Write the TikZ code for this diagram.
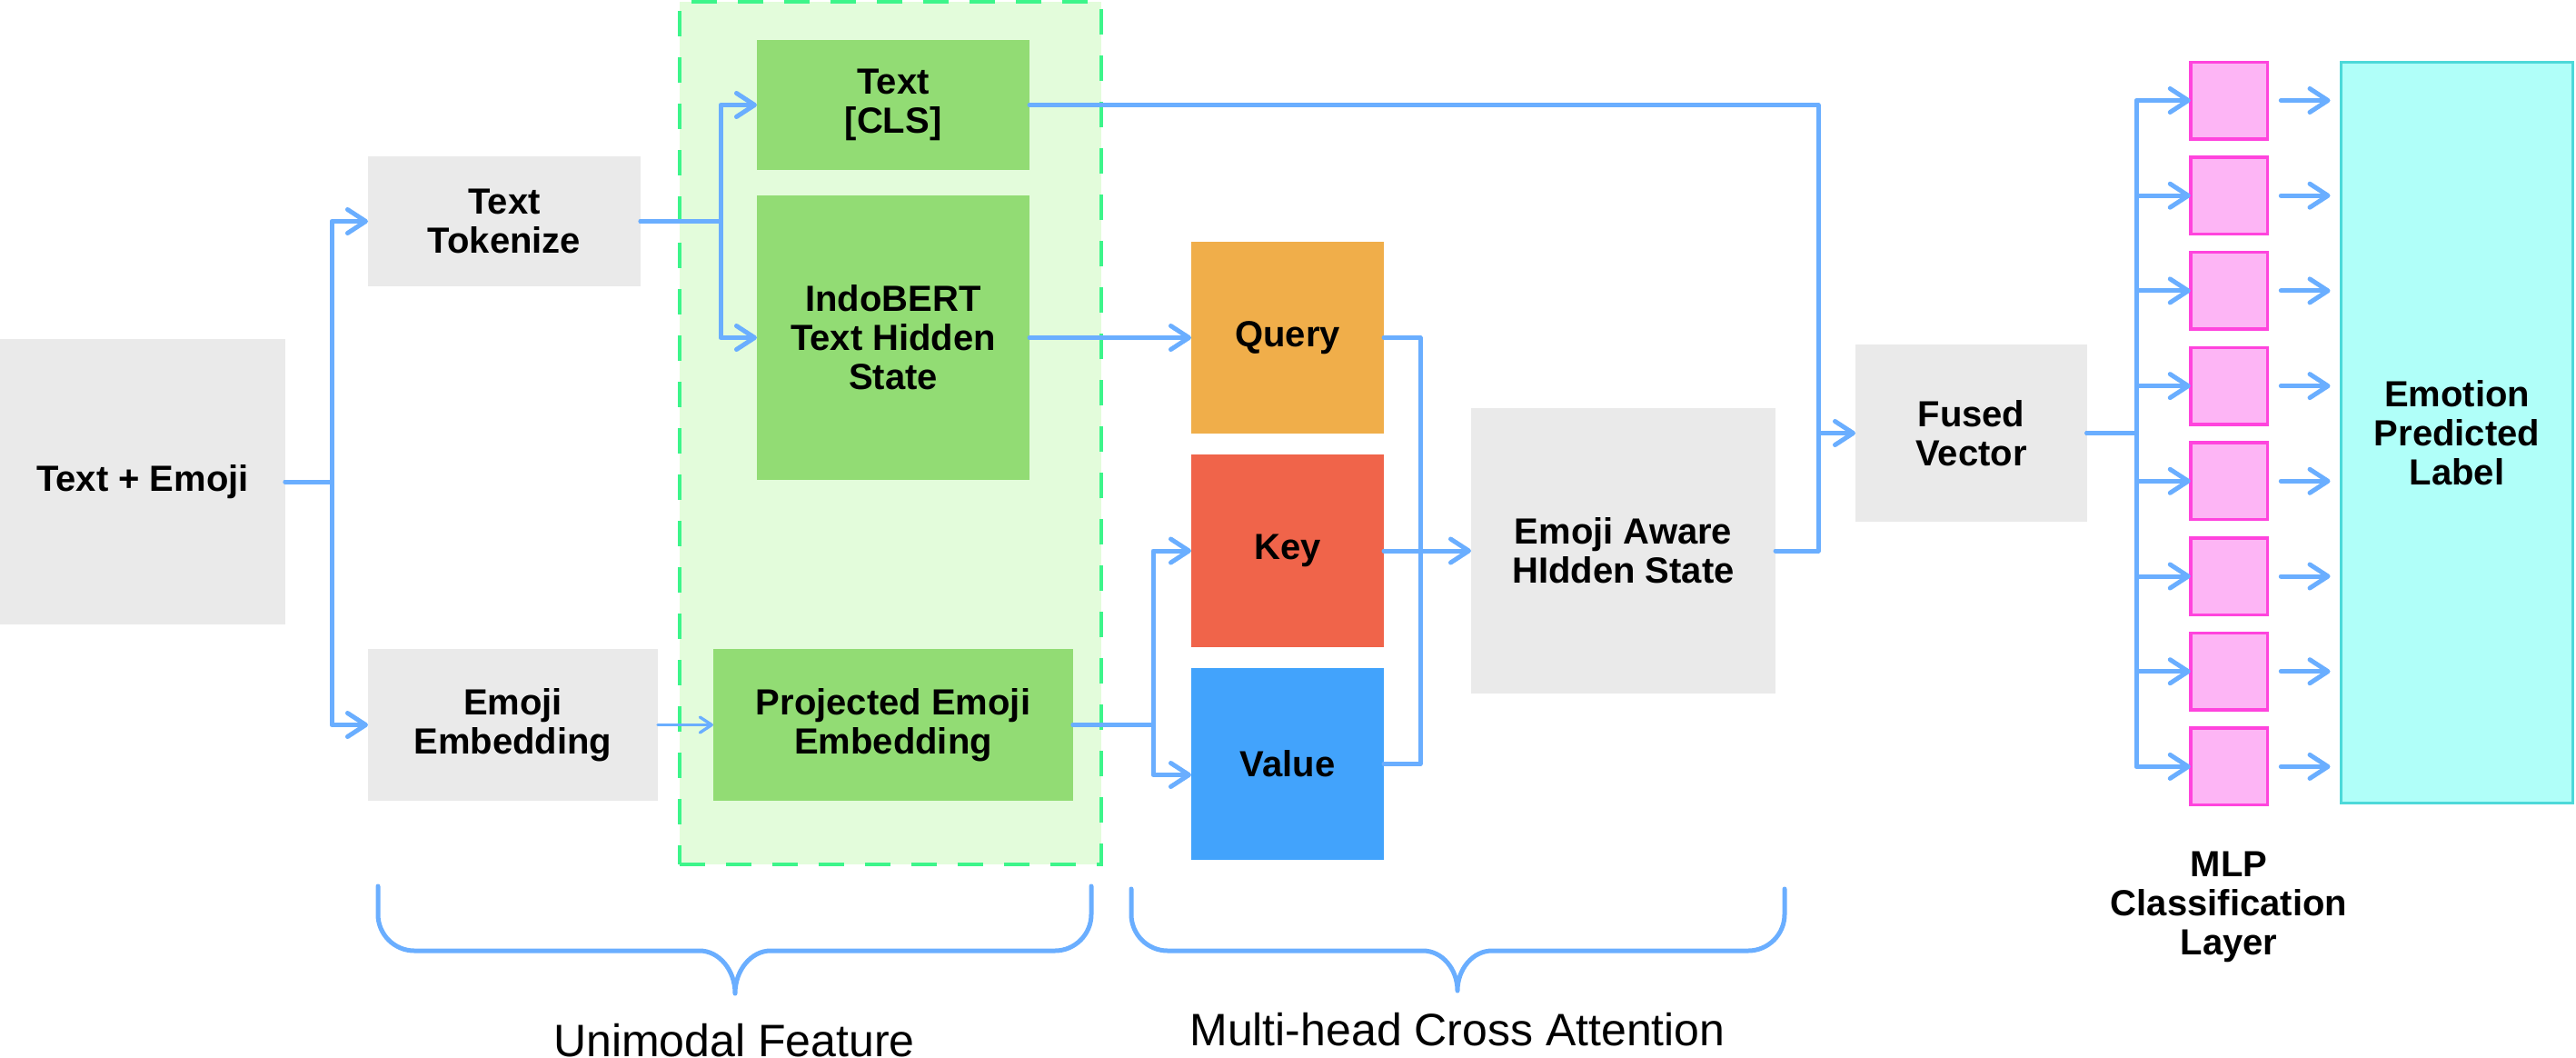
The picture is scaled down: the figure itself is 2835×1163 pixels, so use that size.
\documentclass[tikz,border=0pt]{standalone}
\usepackage{fontspec}
\setmainfont{Liberation Sans}
\usetikzlibrary{arrows.meta}
\definecolor{lblue}{HTML}{6AAEFF}
\definecolor{boxgray}{HTML}{EAEAEA}
\definecolor{gbox}{HTML}{92DC74}
\definecolor{gregion}{HTML}{E3FCDB}
\definecolor{gdash}{HTML}{3DF58A}
\definecolor{qcol}{HTML}{F0AE4A}
\definecolor{kcol}{HTML}{F0644A}
\definecolor{vcol}{HTML}{42A3FC}
\definecolor{pinkfill}{HTML}{FDB5F5}
\definecolor{pinkline}{HTML}{FF44DD}
\definecolor{cyanfill}{HTML}{B0FFF9}
\definecolor{cyanline}{HTML}{4DD9D9}
\tikzset{
  lbl/.style={inner sep=0pt, outer sep=0pt, align=center, text=black,
    font=\fontsize{40}{43}\selectfont\bfseries},
  graybox/.style={lbl, fill=boxgray},
  greenbox/.style={lbl, fill=gbox},
  pinkbox/.style={inner sep=0pt, outer sep=0pt, fill=pinkfill, draw=pinkline,
    line width=3.5pt, minimum width=84.5pt, minimum height=84.5pt},
  conn/.style={draw=lblue, line width=5pt, line cap=round, line join=round},
  arr/.style={conn, -{Straight Barb[length=20pt,width=26pt,round]}},
  thinarr/.style={draw=lblue, line width=3.3pt, line cap=round, line join=round,
    -{Straight Barb[length=13pt,width=17pt,round]}},
  grouplbl/.style={inner sep=0pt, anchor=base, font=\fontsize{50}{55}\selectfont}
}
\begin{document}
\begin{tikzpicture}[x=1pt,y=-1pt]
\useasboundingbox (0,0) rectangle (2835,1163);
% group background
\node[fill=gregion, draw=gdash, line width=3.5pt, dash pattern=on 28pt off 23pt,
  minimum width=464pt, minimum height=949pt, inner sep=0pt] (region) at (980,476.5) {};
% nodes
\node[graybox, minimum width=314pt, minimum height=314pt] (te) at (157,530) {Text + Emoji};
\node[graybox, minimum width=300pt, minimum height=143pt] (tok) at (555,243.5) {Text\\Tokenize};
\node[graybox, minimum width=319pt, minimum height=167pt] (emb) at (564.5,797.5) {Emoji\\Embedding};
\node[greenbox, minimum width=300pt, minimum height=143pt] (cls) at (983,115.5) {Text\\{[CLS]}};
\node[greenbox, minimum width=300pt, minimum height=313pt] (bert) at (983,371.5) {IndoBERT\\Text Hidden\\State};
\node[greenbox, minimum width=396pt, minimum height=167pt] (proj) at (983,797.5) {Projected Emoji\\Embedding};
\node[lbl, fill=qcol, minimum width=212pt, minimum height=211pt] (q) at (1417,371.5) {Query};
\node[lbl, fill=kcol, minimum width=212pt, minimum height=212pt] (k) at (1417,606) {Key};
\node[lbl, fill=vcol, minimum width=212pt, minimum height=211pt] (v) at (1417,840.5) {Value};
\node[graybox, minimum width=335pt, minimum height=314pt] (ea) at (1786.5,606) {Emoji Aware\\HIdden State};
\node[graybox, minimum width=255pt, minimum height=195pt] (fv) at (2169.5,476.5) {Fused\\Vector};
\foreach \i in {0,...,7}
  \node[pinkbox] (p\i) at (2453,{110.5+104.7*\i}) {};
\node[lbl, fill=cyanfill, draw=cyanline, line width=3.5pt, minimum width=255pt,
  minimum height=815pt] (emo) at (2704,476) {Emotion\\Predicted\\Label};
\node[lbl] (mlp) at (2453,998) {MLP\\Classification\\Layer};
% connectors
\draw[arr] (te.east) -- ++(51,0) |- (tok.west);
\draw[arr] (te.east) -- ++(51,0) |- (emb.west);
\draw[arr] (tok.east) -- ++(88,0) |- (cls.west);
\draw[arr] (tok.east) -- ++(88,0) |- (bert.west);
\draw[thinarr] (emb.east) -- (proj.west);
\draw[arr] (bert.east) -- (q.west);
\draw[arr] (proj.east) -- ++(88,0) |- (k.west);
\draw[arr] (proj.east) -- ++(88,0) |- ([yshift=-12pt]v.west);
\coordinate (j1) at (1563,606);
\draw[conn] (q.east) -| (j1) |- (v.east);
\draw[arr] (k.east) -- (ea.west);
\coordinate (j2) at (2001,476.5);
\draw[conn] (ea.east) -| (j2);
\draw[arr] (cls.east) -| (j2) -- (fv.west);
\foreach \i in {0,...,7} {
  \draw[arr] (fv.east) -- ++(54,0) |- (p\i.west);
  \path (p\i.east -| emo.west) coordinate (e\i);
  \draw[arr] ([xshift=15pt]p\i.east) -- ([xshift=-12pt]e\i);
}
% braces
\draw[conn] (416,975) -- (416,1006) .. controls (416,1028) and (434,1046) .. (456,1046)
  -- (770,1046) .. controls (791,1046) and (809,1067) .. (809,1093)
  .. controls (809,1067) and (827,1046) .. (848,1046) -- (1161,1046)
  .. controls (1183,1046) and (1201,1028) .. (1201,1006) -- (1201,975);
\draw[conn] (1245,978) -- (1245,1006) .. controls (1245,1028) and (1263,1046) .. (1285,1046)
  -- (1566,1046) .. controls (1587,1046) and (1604,1066) .. (1604,1090)
  .. controls (1604,1066) and (1621,1046) .. (1642,1046) -- (1924,1046)
  .. controls (1946,1046) and (1964,1028) .. (1964,1006) -- (1964,978);
\node[grouplbl] (uni) at (808,1162) {Unimodal Feature};
\node[grouplbl] (mhca) at (1604,1150) {Multi-head Cross Attention};
\end{tikzpicture}
\end{document}
